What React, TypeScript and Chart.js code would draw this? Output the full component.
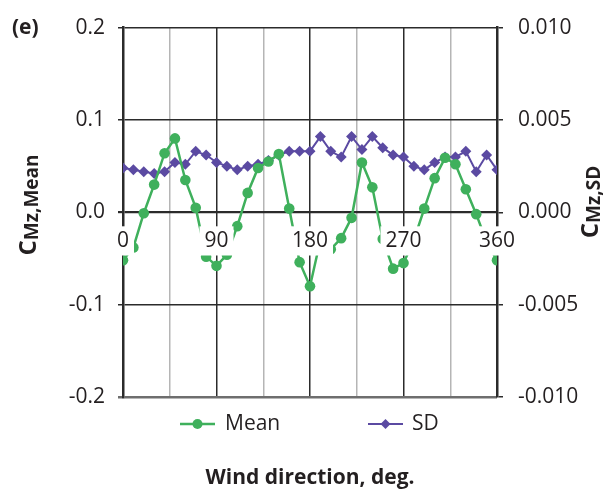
import { useEffect, useRef } from "react";
import { Chart, registerables } from "chart.js";

Chart.register(...registerables);

// Wind direction (deg) at which each coefficient was measured
const windDirections = [
  0, 10, 20, 30, 40, 50, 60, 70, 80, 90, 100, 110, 120, 130, 140, 150, 160, 170, 180,
  190, 200, 210, 220, 230, 240, 250, 260, 270, 280, 290, 300, 310, 320, 330, 340, 350, 360,
];

// Mean torsional moment coefficient C_Mz,Mean (left axis)
const meanValues = [
  -0.052, -0.038, -0.001, 0.03, 0.064, 0.08, 0.035, 0.005, -0.048, -0.058, -0.046, -0.015,
  0.021, 0.048, 0.055, 0.063, 0.004, -0.054, -0.08, -0.03, -0.04, -0.028, -0.006, 0.054,
  0.027, -0.029, -0.061, -0.055, -0.03, 0.004, 0.037, 0.059, 0.052, 0.025, -0.002, -0.032,
  -0.052,
];

// Standard deviation C_Mz,SD (right axis)
const sdValues = [
  0.0024, 0.0023, 0.0022, 0.0021, 0.0022, 0.0027, 0.0026, 0.0033, 0.0031, 0.0027, 0.0025,
  0.0023, 0.0025, 0.0026, 0.0028, 0.0031, 0.0033, 0.0033, 0.0033, 0.0041, 0.0033, 0.003,
  0.0041, 0.0034, 0.0041, 0.0035, 0.0031, 0.003, 0.0025, 0.0023, 0.0027, 0.003, 0.003,
  0.0033, 0.0022, 0.0031, 0.0023,
];

const directionLabels = ["0", "90", "180", "270", "360"];
const seriesNames = ["Mean", "SD"];

const MEAN_COLOR = "#3fb05c";
const SD_COLOR = "#5b4aa2";
const TEXT_COLOR = "#231f20";
const GRID_DARK = "#2b2b2b";
const GRID_LIGHT = "#b5b5b5";
const FONT = "'Open Sans', sans-serif";

function drawRotatedTitle(
  ctx: CanvasRenderingContext2D,
  main: string,
  sub: string,
  baselineX: number,
  centerY: number
) {
  ctx.save();
  ctx.translate(baselineX, centerY);
  ctx.rotate(-Math.PI / 2);
  ctx.textAlign = "left";
  ctx.textBaseline = "alphabetic";
  ctx.font = `bold 24px ${FONT}`;
  const w1 = ctx.measureText(main).width;
  ctx.font = `bold 19px ${FONT}`;
  const w2 = ctx.measureText(sub).width;
  const start = -(w1 + w2) / 2;
  ctx.font = `bold 24px ${FONT}`;
  ctx.fillText(main, start, 0);
  ctx.font = `bold 19px ${FONT}`;
  ctx.fillText(sub, start + w1, 2);
  ctx.restore();
}

const panelText = {
  id: "panelText",
  afterDraw(chart: any) {
    const ctx: CanvasRenderingContext2D = chart.ctx;
    const area = chart.chartArea;
    ctx.save();
    ctx.fillStyle = TEXT_COLOR;

    ctx.font = `bold 21px ${FONT}`;
    ctx.textAlign = "left";
    ctx.textBaseline = "middle";
    ctx.fillText("(e)", 12, area.top);

    drawRotatedTitle(ctx, "C", "Mz,Mean", 36, 205);
    drawRotatedTitle(ctx, "C", "Mz,SD", 598, 202);

    ctx.font = `bold 21px ${FONT}`;
    ctx.textAlign = "center";
    ctx.fillText("Wind direction, deg.", (area.left + area.right) / 2, area.bottom + 81);

    // legend
    const ly = area.bottom + 27;
    const meanX = 180;
    const sdX = 368;
    ctx.lineWidth = 2.5;
    ctx.strokeStyle = MEAN_COLOR;
    ctx.beginPath();
    ctx.moveTo(meanX, ly);
    ctx.lineTo(meanX + 35, ly);
    ctx.stroke();
    ctx.fillStyle = MEAN_COLOR;
    ctx.beginPath();
    ctx.arc(meanX + 17.5, ly, 5, 0, Math.PI * 2);
    ctx.fill();

    ctx.lineWidth = 2;
    ctx.strokeStyle = SD_COLOR;
    ctx.beginPath();
    ctx.moveTo(sdX, ly);
    ctx.lineTo(sdX + 35, ly);
    ctx.stroke();
    ctx.fillStyle = SD_COLOR;
    const dx = sdX + 17.5;
    ctx.beginPath();
    ctx.moveTo(dx, ly - 5);
    ctx.lineTo(dx + 5, ly);
    ctx.lineTo(dx, ly + 5);
    ctx.lineTo(dx - 5, ly);
    ctx.closePath();
    ctx.fill();

    ctx.fillStyle = TEXT_COLOR;
    ctx.font = `21px ${FONT}`;
    ctx.textAlign = "left";
    ctx.textBaseline = "middle";
    ctx.fillText(seriesNames[0], meanX + 45, ly);
    ctx.fillText(seriesNames[1], sdX + 44, ly);
    ctx.restore();
  },
};

export default function App() {
  const canvasRef = useRef<HTMLCanvasElement | null>(null);

  useEffect(() => {
    const canvas = canvasRef.current;
    if (!canvas) return;

    const chart = new Chart(canvas, {
      type: "line",
      data: {
        datasets: [
          {
            label: seriesNames[0],
            data: windDirections.map((d, i) => ({ x: d, y: meanValues[i] })),
            yAxisID: "y",
            borderColor: MEAN_COLOR,
            backgroundColor: MEAN_COLOR,
            borderWidth: 2.5,
            pointRadius: 5.3,
            pointBorderWidth: 0,
            pointBackgroundColor: MEAN_COLOR,
            tension: 0,
          },
          {
            label: seriesNames[1],
            data: windDirections.map((d, i) => ({ x: d, y: sdValues[i] })),
            yAxisID: "y2",
            borderColor: SD_COLOR,
            backgroundColor: SD_COLOR,
            borderWidth: 2,
            pointStyle: "rectRot",
            pointRadius: 5.5,
            pointBorderWidth: 0,
            pointBackgroundColor: SD_COLOR,
            tension: 0,
          },
        ],
      },
      options: {
        responsive: false,
        animation: false,
        devicePixelRatio: 1,
        layout: { padding: { left: 0, right: 0, top: 25, bottom: 96 } },
        plugins: {
          legend: { display: false },
          tooltip: { enabled: false },
        },
        scales: {
          x: {
            type: "linear",
            position: { y: 0 } as any,
            min: 0,
            max: 360,
            afterBuildTicks: (scale: any) => {
              const ticks = [];
              for (let v = 0; v <= 360; v += 45) ticks.push({ value: v });
              scale.ticks = ticks;
            },
            ticks: {
              autoSkip: false,
              maxRotation: 0,
              padding: 16,
              z: 1,
              color: TEXT_COLOR,
              font: { family: FONT, size: 21 },
              showLabelBackdrop: true,
              backdropColor: (c: any) =>
                c.tick && c.tick.value % 90 === 0 ? "#ffffff" : "rgba(255,255,255,0)",
              backdropPadding: { top: 2, bottom: 2, left: 5, right: 5 },
              callback: (v: any) => {
                const idx = [0, 90, 180, 270, 360].indexOf(Number(v));
                return idx >= 0 ? directionLabels[idx] : "";
              },
            },
            grid: {
              drawTicks: false,
              lineWidth: 1.5,
              color: (c: any) => (c.tick && c.tick.value % 90 === 0 ? GRID_DARK : GRID_LIGHT),
            },
            border: { display: false },
          },
          y: {
            type: "linear",
            position: "left",
            min: -0.2,
            max: 0.2,
            afterFit: (scale: any) => {
              scale.width = 123;
            },
            ticks: {
              stepSize: 0.1,
              padding: 13,
              color: TEXT_COLOR,
              font: { family: FONT, size: 21 },
              callback: (v: any) => Number(v).toFixed(1),
            },
            grid: {
              tickLength: 5,
              lineWidth: (c: any) => {
                const v = c.tick ? Math.round(c.tick.value * 10) : 1;
                if (v === 0) return 2.2;
                if (v === -2) return 2.5;
                return 1.5;
              },
              color: (c: any) =>
                c.tick && Math.round(c.tick.value * 10) === -2 ? "#6e6e6e" : GRID_DARK,
            },
            border: { display: true, color: GRID_DARK, width: 2.5 },
          },
          y2: {
            type: "linear",
            position: "right",
            min: -0.01,
            max: 0.01,
            afterFit: (scale: any) => {
              scale.width = 114;
            },
            ticks: {
              stepSize: 0.005,
              padding: 15,
              color: TEXT_COLOR,
              font: { family: FONT, size: 21 },
              callback: (v: any) => Number(v).toFixed(3),
            },
            grid: {
              drawOnChartArea: false,
              tickLength: 6,
              lineWidth: 1.5,
              color: GRID_DARK,
            },
            border: { display: true, color: GRID_DARK, width: 2.5 },
          },
        },
      },
      plugins: [panelText],
    });

    return () => chart.destroy();
  }, []);

  return (
    <div style={{ position: "absolute", left: 0, top: 0, width: 611, height: 493, background: "#fff" }}>
      <canvas ref={canvasRef} width={611} height={493} style={{ display: "block" }} />
    </div>
  );
}
